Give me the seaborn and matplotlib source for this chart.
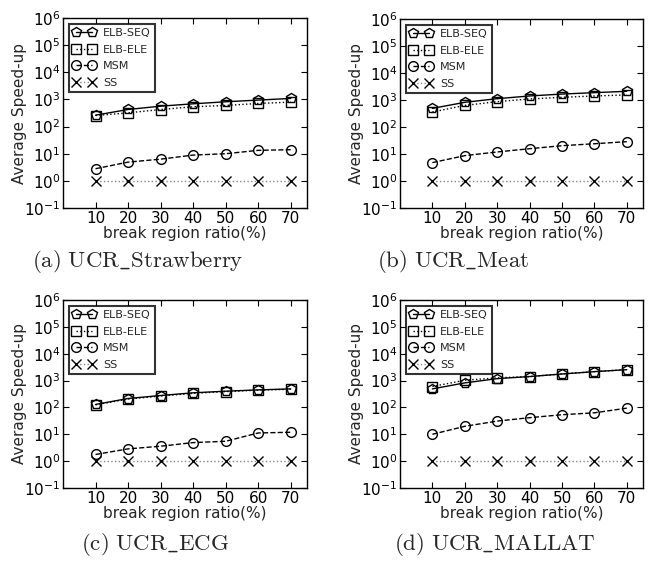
import numpy as np
import pandas as pd
import matplotlib
matplotlib.use("Agg")
import matplotlib.pyplot as plt
import seaborn as sns
from matplotlib.ticker import LogLocator, NullLocator

sns.set_style("ticks")
plt.rcParams['font.family'] = ['DejaVu Sans']
plt.rcParams['mathtext.fontset'] = 'dejavusans'

ratios = [10, 20, 30, 40, 50, 60, 70]
series_names = ["ELB-SEQ", "ELB-ELE", "MSM", "SS"]

strawberry_seq = [263, 426, 565, 690, 820, 945, 1090]
strawberry_ele = [255, 320, 425, 535, 600, 710, 795]
strawberry_msm = [2.8, 4.9, 6.3, 8.9, 10, 13.3, 14.1]
strawberry_ss = [1, 1, 1, 1, 1, 1, 1]

meat_seq = [490, 820, 1120, 1410, 1660, 1870, 2100]
meat_ele = [360, 630, 870, 1090, 1260, 1410, 1540]
meat_msm = [4.8, 8.7, 11.9, 15.7, 20.3, 24, 28.6]
meat_ss = [1, 1, 1, 1, 1, 1, 1]

ecg_seq = [129, 215, 278, 350, 402, 450, 490]
ecg_ele = [125, 205, 265, 335, 390, 440, 475]
ecg_msm = [1.77, 2.86, 3.6, 4.9, 5.5, 11.2, 11.9]
ecg_ss = [1, 1, 1, 1, 1, 1, 1]

mallat_seq = [490, 820, 1180, 1410, 1760, 2150, 2550]
mallat_ele = [600, 1030, 1260, 1410, 1760, 2150, 2550]
mallat_msm = [10, 19.8, 31, 41.5, 53.5, 63, 94]
mallat_ss = [1, 1, 1, 1, 1, 1, 1]

captions = [r"$\mathrm{(a)\ UCR\_Strawberry}$", r"$\mathrm{(b)\ UCR\_Meat}$",
            r"$\mathrm{(c)\ UCR\_ECG}$", r"$\mathrm{(d)\ UCR\_MALLAT}$"]

datasets = [
    (strawberry_seq, strawberry_ele, strawberry_msm, strawberry_ss),
    (meat_seq, meat_ele, meat_msm, meat_ss),
    (ecg_seq, ecg_ele, ecg_msm, ecg_ss),
    (mallat_seq, mallat_ele, mallat_msm, mallat_ss),
]

styles = {
    "ELB-SEQ": dict(marker='p', linestyle='-', color='black', lw=1.0),
    "ELB-ELE": dict(marker='s', linestyle=':', color='black', lw=1.0),
    "MSM": dict(marker='o', linestyle='--', color='black', lw=1.0),
    "SS": dict(marker='x', linestyle=':', color='#888888', lw=1.0),
}

W, H = 654, 563
fig = plt.figure(figsize=(W / 100, H / 100), dpi=100)

ax_boxes = [(63, 18, 307, 208), (400, 19, 643, 208),
            (63, 300, 307, 488), (400, 300, 643, 488)]
caption_pos = [(138, 261), (453, 261), (155, 545), (495, 545)]

for i, (vals, box, cap, cpos) in enumerate(zip(datasets, ax_boxes, captions, caption_pos)):
    l, t, r, b = box
    ax = fig.add_axes([l / W, 1 - b / H, (r - l) / W, (b - t) / H])
    for name, v in zip(series_names, vals):
        st = styles[name]
        sns.lineplot(x=ratios, y=v, ax=ax, label=name, marker=st['marker'],
                     linestyle=st['linestyle'], color=st['color'], lw=st['lw'],
                     markersize=7, markerfacecolor='none', markeredgecolor='black',
                     markeredgewidth=1.0)
    ax.set_yscale('log')
    ax.set_xlim(0, 75)
    ax.set_ylim(0.1, 1e6)
    ax.set_xticks(ratios)
    ax.yaxis.set_major_locator(LogLocator(base=10, numticks=10))
    ax.yaxis.set_minor_locator(NullLocator())
    ax.tick_params(direction='in', which='both', top=True, right=True,
                   labelsize=11, length=4, width=0.8, colors='black', pad=2)
    for s in ax.spines.values():
        s.set_visible(True)
        s.set_color('black')
        s.set_linewidth(1.0)
    ax.set_xlabel("break region ratio(%)", fontsize=11, labelpad=0)
    ax.set_ylabel("Average Speed-up", fontsize=11, labelpad=-2)
    leg = ax.legend(loc='upper left', fontsize=8, numpoints=2, handlelength=2.0,
                    fancybox=False, frameon=True, borderpad=0.4, labelspacing=0.6,
                    handletextpad=0.7, borderaxespad=0.5)
    leg.get_frame().set_edgecolor('black')
    leg.get_frame().set_linewidth(1.5)
    fig.text(cpos[0] / W, 1 - cpos[1] / H, cap, ha='center', va='center',
             fontsize=16.5, math_fontfamily='cm')

fig.savefig("out.png", dpi=100)
